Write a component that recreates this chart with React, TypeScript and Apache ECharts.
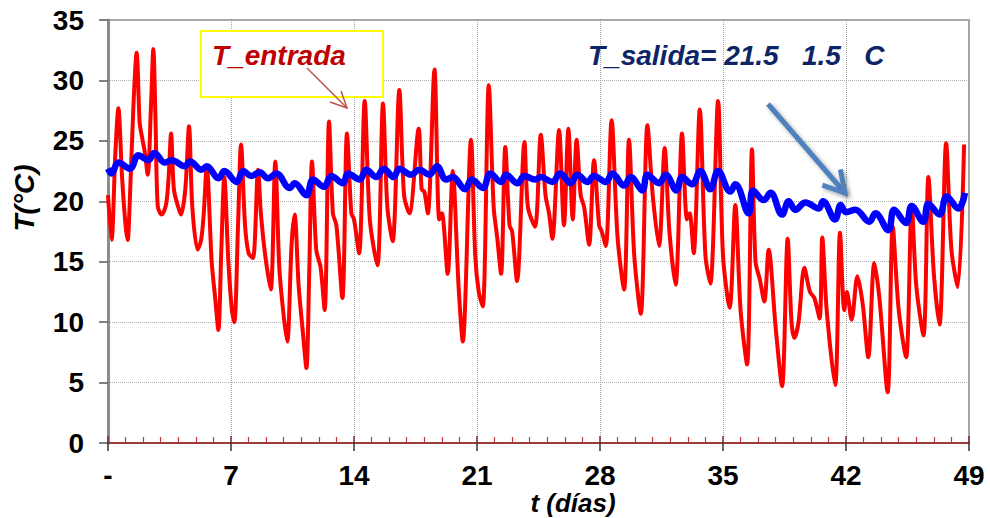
import React, { useEffect, useRef } from "react";
import * as echarts from "echarts";

// Eje x: días (ticks cada 7), eje y: temperatura (°C)
const xTickValues = [0, 7, 14, 21, 28, 35, 42, 49];
const xTickLabels = ["-", "7", "14", "21", "28", "35", "42", "49"];
const yTickValues = [0, 5, 10, 15, 20, 25, 30, 35];

// T_entrada: [día, °C]
const tEntrada: [number, number][] = [
  [0, 20.5], [0.2, 16.8], [0.42, 24], [0.59, 27.7], [0.8, 22], [1.0, 18], [1.12, 16.8], [1.2, 18.5],
  [1.45, 28], [1.63, 32.3], [1.8, 26.5], [1.9, 25.6], [2.1, 24], [2.26, 22.2], [2.45, 28], [2.58, 32.6],
  [2.7, 27], [2.83, 19.6], [3.05, 18.9], [3.3, 19.7], [3.45, 22], [3.59, 25.6], [3.75, 21], [4.0, 19.5],
  [4.15, 18.9], [4.4, 21], [4.61, 26.2], [4.8, 19.5], [5.1, 16.0], [5.3, 16.8], [5.45, 19], [5.62, 22.9],
  [5.9, 15], [6.1, 12], [6.28, 9.35], [6.45, 16], [6.62, 22.0], [6.85, 15], [7.05, 11], [7.19, 10.0],
  [7.4, 18], [7.57, 24.7], [7.8, 18], [8.0, 15.7], [8.25, 15.3], [8.54, 22.6], [8.7, 19], [8.95, 15.5],
  [9.26, 12.7], [9.52, 23.3], [9.75, 14.5], [10.0, 10.5], [10.2, 8.4], [10.45, 16.5], [10.62, 18.9],
  [10.85, 13], [11.1, 9], [11.29, 6.2], [11.45, 14], [11.61, 23.3], [11.85, 16], [12.1, 14.5],
  [12.33, 11.0], [12.58, 26.6], [12.8, 19], [13.0, 18], [13.34, 12.0], [13.6, 25.6], [13.85, 19],
  [14.0, 18.5], [14.29, 15.7], [14.61, 28.3], [14.9, 18.5], [15.33, 14.7], [15.65, 28.1], [15.9, 19.5],
  [16.2, 16.7], [16.58, 29.2], [16.85, 20.5], [17.15, 19.0], [17.68, 26.0], [17.85, 21], [18.0, 20.8],
  [18.2, 19.0], [18.58, 30.9], [18.85, 18.5], [19.0, 19], [19.33, 14.0], [19.62, 22.5], [19.95, 13],
  [20.19, 8.4], [20.66, 25.1], [20.9, 15.5], [21.1, 12.5], [21.33, 11.3], [21.67, 29.6], [21.95, 19.5],
  [22.15, 17], [22.37, 14.0], [22.61, 24.5], [22.85, 18], [23.0, 17.5], [23.28, 13.4], [23.7, 24.9],
  [23.9, 19.5], [24.3, 17.9], [24.63, 25.5], [24.9, 20.5], [25.1, 19], [25.29, 16.9], [25.67, 25.9],
  [25.95, 18], [26.2, 26.0], [26.45, 18.5], [26.67, 25.1], [26.9, 20.5], [27.1, 19.5], [27.38, 16.4],
  [27.66, 23.4], [27.95, 18], [28.1, 17.5], [28.33, 16.3], [28.66, 26.7], [29.0, 17], [29.37, 12.7],
  [29.65, 25.1], [29.95, 15.5], [30.32, 10.7], [30.7, 26.3], [31.0, 20.5], [31.36, 16.3], [31.68, 24.4],
  [31.95, 17.5], [32.3, 13.1], [32.67, 25.6], [32.95, 18.5], [33.1, 19], [33.33, 15.7], [33.68, 27.6],
  [34.0, 15.5], [34.28, 13.2], [34.72, 28.3], [35.0, 15.5], [35.38, 11.2], [35.7, 19.7], [36.0, 11],
  [36.37, 6.5], [36.65, 24.3], [36.85, 15], [37.1, 13.5], [37.35, 11.7], [37.6, 16], [38.0, 9.5],
  [38.36, 4.7], [38.68, 16.9], [38.9, 10], [39.06, 8.7], [39.3, 10], [39.63, 14.5], [39.95, 12.5],
  [40.2, 12], [40.5, 10.3], [40.65, 17], [40.9, 11], [41.38, 4.8], [41.66, 17.4], [41.9, 11],
  [42.05, 12.5], [42.32, 10.2], [42.65, 13.8], [42.95, 11.5], [43.27, 7.1], [43.61, 14.9], [43.9, 12],
  [44.37, 4.2], [44.66, 17.9], [45.0, 11], [45.42, 7.1], [45.74, 19.7], [46.0, 13], [46.41, 8.9],
  [46.69, 22.0], [47.0, 14], [47.32, 9.8], [47.7, 24.8], [48.0, 16], [48.36, 12.9], [48.72, 24.7],
];

// T_salida: [día, °C]
const tSalida: [number, number][] = [
  [0, 22.7], [0.2, 22.3], [0.59, 23.2], [1.25, 22.7], [1.73, 23.8], [2.3, 23.4], [2.64, 24.0],
  [3.24, 23.2], [3.62, 23.4], [4.38, 22.9], [4.67, 23.3], [5.33, 22.6], [5.62, 22.9], [6.28, 21.9],
  [6.62, 22.5], [7.32, 21.6], [7.7, 22.5], [8.15, 22.1], [8.63, 22.4], [9.1, 21.9], [9.58, 22.3],
  [10.34, 21.1], [10.62, 21.5], [11.29, 20.5], [11.67, 21.8], [12.29, 21.2], [12.71, 22.1],
  [13.37, 21.5], [13.66, 22.3], [14.32, 21.8], [14.7, 22.6], [15.27, 22.0], [15.7, 22.7],
  [16.25, 22.0], [16.58, 22.7], [17.25, 22.2], [17.72, 22.6], [18.29, 22.2], [18.72, 22.9],
  [19.24, 21.8], [19.62, 22.0], [20.32, 21.0], [20.7, 21.8], [21.33, 21.1], [21.76, 22.3],
  [22.37, 21.6], [22.65, 22.2], [23.3, 21.5], [23.7, 22.1], [24.3, 21.8], [24.63, 22.0],
  [25.29, 21.6], [25.73, 22.3], [26.33, 21.5], [26.71, 22.2], [27.28, 21.6], [27.66, 22.1],
  [28.33, 21.6], [28.7, 22.3], [29.37, 21.3], [29.75, 22.0], [30.41, 20.9], [30.7, 22.2],
  [31.36, 21.5], [31.74, 22.2], [32.35, 20.9], [32.67, 22.0], [33.24, 21.4], [33.71, 22.5],
  [34.28, 21.0], [34.72, 22.5], [35.42, 20.8], [35.7, 21.4], [36.46, 19.0], [36.71, 20.9],
  [37.32, 20.1], [37.7, 20.7], [38.36, 18.9], [38.74, 20.0], [39.12, 19.3], [39.69, 19.9],
  [40.45, 19.4], [40.69, 20.0], [41.38, 18.5], [41.7, 19.7], [42.0, 19.1], [42.53, 19.3],
  [43.33, 18.3], [43.67, 19.0], [44.41, 17.6], [44.74, 19.3], [45.42, 18.2], [45.74, 19.6],
  [46.4, 18.3], [46.69, 19.8], [47.32, 18.9], [47.73, 20.4], [48.39, 19.4], [48.77, 20.7],
];

const FONT = '"Liberation Sans", Arial, sans-serif';

function arrowHead(x1: number, y1: number, x2: number, y2: number, len: number, spread: number) {
  const a = Math.atan2(y2 - y1, x2 - x1);
  const p1 = [x2 - len * Math.cos(a + spread), y2 - len * Math.sin(a + spread)];
  const p2 = [x2 - len * Math.cos(a - spread), y2 - len * Math.sin(a - spread)];
  return [p1, [x2, y2], p2];
}

export default function App() {
  const ref = useRef<HTMLDivElement>(null);
  useEffect(() => {
    if (!ref.current) return;
    const chart = echarts.init(ref.current, null, { renderer: "svg" });
    const gridRect = { left: 108, top: 20, width: 861, height: 423 };
    const xMin = xTickValues[0];
    const xMax = xTickValues[xTickValues.length - 1];
    const yMin = yTickValues[0];
    const yMax = yTickValues[yTickValues.length - 1];
    const xInt = xTickValues[1] - xTickValues[0];
    const yInt = yTickValues[1] - yTickValues[0];
    const labelOf = (v: number) => {
      const i = xTickValues.indexOf(v);
      return i >= 0 ? xTickLabels[i] : "";
    };
    chart.setOption({
      animation: false,
      backgroundColor: "#ffffff",
      grid: [
        { ...gridRect, show: true, borderColor: "#a6a6a6", borderWidth: 2, backgroundColor: "transparent" },
        { ...gridRect, show: false },
      ],
      xAxis: [
        {
          type: "value", gridIndex: 0, min: xMin, max: xMax, interval: xInt,
          axisLine: { show: true, onZero: false, lineStyle: { color: "#9c3b3b", width: 2 } },
          axisTick: { show: true, inside: true, length: 7, lineStyle: { color: "#7a2a2a", width: 1.5 } },
          minorTick: { show: true, splitNumber: 7, length: 6, lineStyle: { color: "#c23a3a", width: 1.2 } },
          axisLabel: {
            formatter: labelOf, color: "#000", fontFamily: FONT, fontWeight: "bold", fontSize: 28, margin: 18,
          },
          splitLine: { show: true, lineStyle: { color: "#a0a0a0", type: "dotted", width: 1 } },
        },
        {
          type: "value", gridIndex: 1, min: xMin, max: xMax, interval: xInt,
          axisLine: { show: false },
          axisTick: { show: true, inside: false, length: 8, lineStyle: { color: "#333", width: 1.5 } },
          axisLabel: { show: false },
          splitLine: { show: false },
        },
      ],
      yAxis: [
        {
          type: "value", gridIndex: 0, min: yMin, max: yMax, interval: yInt,
          axisLine: { show: true, lineStyle: { color: "#8c8c8c", width: 3 } },
          axisTick: { show: true, inside: false, length: 9, lineStyle: { color: "#595959", width: 1.5 } },
          axisLabel: { color: "#000", fontFamily: FONT, fontWeight: "bold", fontSize: 28, margin: 24 },
          splitLine: { show: true, lineStyle: { color: "#b0b0b0", type: "dotted", width: 1 } },
        },
        {
          type: "value", gridIndex: 1, min: yMin, max: yMax, interval: yInt, show: false,
        },
      ],
      series: [
        {
          name: "T_entrada", type: "line", xAxisIndex: 0, yAxisIndex: 0, data: tEntrada,
          showSymbol: false, smooth: 0.3, lineStyle: { color: "#ff0000", width: 4 }, z: 3,
        },
        {
          name: "T_salida", type: "line", xAxisIndex: 0, yAxisIndex: 0, data: tSalida,
          showSymbol: false, smooth: 0.4, lineStyle: { color: "#0000ff", width: 6.5 }, z: 4,
        },
      ],
      graphic: [
        {
          type: "rect", shape: { x: 201, y: 31, width: 182, height: 66 },
          style: { fill: "#ffffff", stroke: "#ffff00", lineWidth: 2 }, z: 10,
        },
        {
          type: "text", x: 212, y: 55, z: 11,
          style: {
            text: "T_entrada", fill: "#c00000", font: `italic bold 28px ${FONT}`,
            verticalAlign: "middle", align: "left",
          },
        },
        {
          type: "line", shape: { x1: 307, y1: 68, x2: 347, y2: 108 }, z: 11,
          style: { stroke: "#c0504d", lineWidth: 1.5 },
        },
        {
          type: "polyline", shape: { points: arrowHead(307, 68, 347, 108, 18, 0.45) }, z: 11,
          style: { stroke: "#c0504d", lineWidth: 1.5, fill: "none" },
        },
        {
          type: "text", x: 588, y: 55, z: 11,
          style: {
            text: "T_salida= 21.5   1.5   C", fill: "#0d2566", font: `italic bold 28px ${FONT}`,
            verticalAlign: "middle", align: "left",
          },
        },
        {
          type: "line", shape: { x1: 768, y1: 104, x2: 845, y2: 193 }, z: 11,
          style: {
            stroke: "#4f81bd", lineWidth: 5, shadowBlur: 4, shadowColor: "rgba(0,0,0,0.35)",
            shadowOffsetX: 2, shadowOffsetY: 2,
          },
        },
        {
          type: "polyline", shape: { points: arrowHead(768, 104, 845, 193, 24, 0.52) }, z: 11,
          style: {
            stroke: "#4f81bd", lineWidth: 5, fill: "none", shadowBlur: 4,
            shadowColor: "rgba(0,0,0,0.35)", shadowOffsetX: 2, shadowOffsetY: 2,
          },
        },
        {
          type: "text", x: 24, y: 198, rotation: Math.PI / 2, z: 11,
          style: {
            text: "T(°C)", fill: "#000", font: `italic bold 28px ${FONT}`,
            verticalAlign: "middle", align: "center",
          },
        },
        {
          type: "text", x: 573, y: 503, z: 11,
          style: {
            text: "t (días)", fill: "#000", font: `italic bold 26px ${FONT}`,
            verticalAlign: "middle", align: "center",
          },
        },
      ],
    });
    return () => chart.dispose();
  }, []);
  return (
    <div
      ref={ref}
      style={{ position: "fixed", left: 0, top: 0, width: 990, height: 518, background: "#fff" }}
    />
  );
}
